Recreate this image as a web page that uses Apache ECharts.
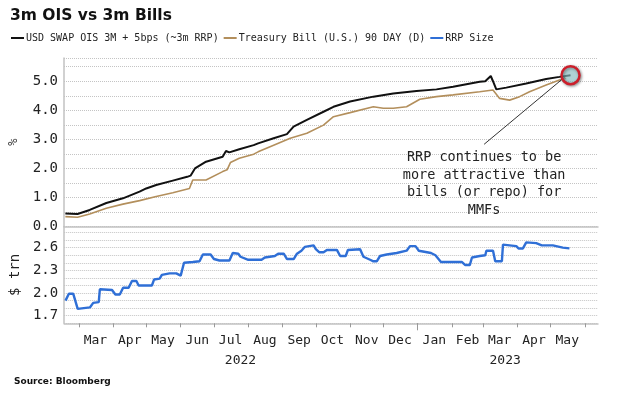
<!DOCTYPE html>
<html><head><meta charset="utf-8">
<script src="https://cdn.jsdelivr.net/npm/echarts@6/dist/echarts.min.js"></script>
<style>html,body{margin:0;padding:0;background:#fff}#c{width:621px;height:393px}</style>
</head><body><div id="c"></div>
<script>
const oisDates = ['2022-02-17','2022-02-28','2022-03-11','2022-03-26','2022-04-10','2022-04-25','2022-05-01','2022-05-10','2022-05-25','2022-06-07','2022-06-10','2022-06-14','2022-06-24','2022-07-09','2022-07-12','2022-07-15','2022-07-24','2022-08-06','2022-08-10','2022-08-24','2022-09-05','2022-09-11','2022-09-23','2022-10-08','2022-10-17','2022-11-01','2022-11-22','2022-12-10','2022-12-31','2023-01-18','2023-02-02','2023-02-26','2023-03-03','2023-03-08','2023-03-10','2023-03-13','2023-03-22','2023-04-09','2023-04-27','2023-05-09','2023-05-19'];
const oisValues = [0.45,0.43,0.57,0.81,0.97,1.20,1.31,1.43,1.58,1.71,1.75,2.00,2.23,2.40,2.60,2.55,2.66,2.80,2.86,3.04,3.18,3.44,3.67,3.95,4.12,4.30,4.47,4.58,4.66,4.72,4.81,4.98,5.00,5.18,5.00,4.72,4.78,4.92,5.08,5.15,5.21];

const billDates = ['2022-02-17','2022-02-28','2022-03-11','2022-03-26','2022-04-10','2022-04-25','2022-05-10','2022-05-25','2022-06-09','2022-06-12','2022-06-24','2022-07-09','2022-07-13','2022-07-16','2022-07-24','2022-08-06','2022-08-10','2022-08-24','2022-09-08','2022-09-23','2022-10-08','2022-10-17','2022-11-01','2022-11-22','2022-12-01','2022-12-10','2022-12-22','2023-01-03','2023-01-18','2023-02-02','2023-02-26','2023-03-10','2023-03-16','2023-03-25','2023-04-03','2023-04-12','2023-04-27','2023-05-09','2023-05-15'];
const billValues = [0.34,0.32,0.43,0.63,0.77,0.89,1.03,1.16,1.31,1.60,1.60,1.89,1.95,2.20,2.35,2.49,2.57,2.80,3.04,3.21,3.49,3.78,3.92,4.12,4.07,4.07,4.12,4.38,4.47,4.53,4.64,4.70,4.41,4.35,4.47,4.64,4.87,5.04,5.10];

const rrpDates = ['2022-02-17','2022-02-20','2022-02-24','2022-02-28','2022-03-11','2022-03-14','2022-03-19','2022-03-20','2022-03-31','2022-04-03','2022-04-07','2022-04-10','2022-04-15','2022-04-18','2022-04-22','2022-04-24','2022-05-06','2022-05-08','2022-05-13','2022-05-15','2022-05-22','2022-05-28','2022-06-01','2022-06-04','2022-06-12','2022-06-18','2022-06-21','2022-06-28','2022-07-01','2022-07-06','2022-07-15','2022-07-18','2022-07-23','2022-07-25','2022-08-01','2022-08-13','2022-08-16','2022-08-25','2022-08-28','2022-09-02','2022-09-05','2022-09-11','2022-09-14','2022-09-18','2022-09-21','2022-09-29','2022-10-01','2022-10-04','2022-10-08','2022-10-11','2022-10-20','2022-10-23','2022-10-28','2022-10-30','2022-11-10','2022-11-13','2022-11-19','2022-11-22','2022-11-25','2022-11-28','2022-12-04','2022-12-13','2022-12-22','2022-12-25','2022-12-30','2023-01-02','2023-01-13','2023-01-17','2023-01-22','2023-02-10','2023-02-13','2023-02-17','2023-02-19','2023-02-26','2023-03-03','2023-03-04','2023-03-10','2023-03-12','2023-03-18','2023-03-19','2023-03-25','2023-03-31','2023-04-02','2023-04-06','2023-04-09','2023-04-18','2023-04-23','2023-05-03','2023-05-06','2023-05-12','2023-05-18'];
const rrpValues = [1.90,1.99,1.99,1.79,1.81,1.87,1.88,2.05,2.04,1.98,1.98,2.07,2.07,2.16,2.16,2.10,2.10,2.18,2.19,2.24,2.26,2.26,2.23,2.40,2.41,2.42,2.51,2.51,2.45,2.43,2.43,2.53,2.52,2.48,2.44,2.44,2.47,2.49,2.52,2.52,2.45,2.45,2.52,2.56,2.61,2.63,2.58,2.54,2.54,2.57,2.57,2.49,2.49,2.57,2.58,2.48,2.44,2.42,2.42,2.49,2.51,2.53,2.56,2.62,2.62,2.56,2.53,2.50,2.41,2.41,2.37,2.37,2.47,2.49,2.50,2.56,2.56,2.42,2.42,2.64,2.63,2.62,2.59,2.59,2.67,2.66,2.63,2.63,2.62,2.60,2.59];

const monthTicks = ['2022-03-01','2022-04-01','2022-05-01','2022-06-01','2022-07-01','2022-08-01','2022-09-01','2022-10-01','2022-11-01','2022-12-01','2023-01-01','2023-02-01','2023-03-01','2023-04-01','2023-05-01','2023-06-01'];
const monthLabelDates = ['2022-03-16','2022-04-16','2022-05-16','2022-06-16','2022-07-16','2022-08-16','2022-09-16','2022-10-16','2022-11-16','2022-12-16','2023-01-16','2023-02-15','2023-03-16','2023-04-16','2023-05-16'];
const monthNames = ['Jan','Feb','Mar','Apr','May','Jun','Jul','Aug','Sep','Oct','Nov','Dec'];
const yearTicks = ['2023-01-01'];
const yearLabelDates = ['2022-07-25','2023-03-21'];
const yearLabels = ['2022','2023'];
const topTickLabels = [0,1,2,3,4,5];
const bottomTickLabels = [1.7,2.0,2.3,2.6];

const X_MIN = '2022-02-15T19:00:00';
const X_MAX = '2023-06-12T19:00:00';
const ts = s => new Date(s.length === 10 ? s + 'T00:00:00' : s).getTime();
const zip = (d, v) => d.map((x, i) => [ts(x), v[i]]);

const mono = 'DejaVu Sans Mono';
const gridLine = {show: true, lineStyle: {type: 'dotted', color: '#c4c4c4', width: 1}};
const axisLineStyle = {show: true, lineStyle: {color: '#c2c2c2', width: 1.5}};
const xMin = ts(X_MIN), xMax = ts(X_MAX);

const chart = echarts.init(document.getElementById('c'), null, {renderer: 'canvas'});
chart.setOption({
  animation: false,
  backgroundColor: '#fff',
  title: [
    {text: '3m OIS vs 3m Bills', left: 10, top: 8, padding: 0, textStyle: {fontFamily: 'DejaVu Sans', fontWeight: 'bold', fontSize: 15.5, color: '#111'}},
    {text: 'Source: Bloomberg', left: 14, top: 377, padding: 0, textStyle: {fontFamily: 'DejaVu Sans', fontWeight: 'bold', fontSize: 9, color: '#111'}}
  ],
  legend: {
    left: 11, top: 33, padding: 0, itemWidth: 13, itemHeight: 2, itemGap: 5, icon: 'rect',
    textStyle: {fontFamily: mono, fontSize: 10, color: '#222', padding: [0, 0, 0, -3]},
    data: ['USD SWAP OIS 3M + 5bps (~3m RRP)', 'Treasury Bill (U.S.) 90 DAY (D)', 'RRP Size']
  },
  grid: [
    {left: 62, right: 23, top: 58, height: 168.5},
    {left: 62, right: 23, top: 226.5, height: 96.8}
  ],
  xAxis: [
    {type: 'value', gridIndex: 0, position: 'bottom', min: xMin, max: xMax, axisLine: axisLineStyle, axisTick: {show: false}, axisLabel: {show: false}, splitLine: {show: false}},
    {type: 'value', gridIndex: 1, position: 'bottom', min: xMin, max: xMax, axisLine: axisLineStyle,
      axisTick: {show: true, length: 4, customValues: monthTicks.map(ts), lineStyle: {color: '#999', width: 1}},
      axisLabel: {show: true, customValues: monthLabelDates.map(ts), margin: 11, fontFamily: mono, fontSize: 13, color: '#222',
        showMinLabel: true, showMaxLabel: true, hideOverlap: false,
        formatter: v => monthNames[new Date(v).getMonth()]},
      splitLine: {show: false}},
    {type: 'value', gridIndex: 1, position: 'bottom', offset: 0, min: xMin, max: xMax, axisLine: {show: false},
      axisTick: {show: true, length: 7, customValues: yearTicks.map(ts), lineStyle: {color: '#999', width: 1}},
      axisLabel: {show: true, customValues: yearLabelDates.map(ts), margin: 31, fontFamily: mono, fontSize: 13, color: '#222',
        showMinLabel: true, showMaxLabel: true,
        formatter: v => { const i = yearLabelDates.map(ts).indexOf(v); return i >= 0 ? yearLabels[i] : ''; }},
      splitLine: {show: false}}
  ],
  yAxis: [
    {type: 'value', gridIndex: 0, min: 0, max: 5.8, interval: 0.5,
      name: '%', nameLocation: 'middle', nameGap: 44, nameRotate: 90, nameTextStyle: {fontFamily: mono, fontSize: 12, color: '#333'},
      axisLine: axisLineStyle, axisTick: {show: false},
      axisLabel: {margin: 6, fontFamily: mono, fontSize: 14, color: '#222',
        formatter: v => topTickLabels.some(t => Math.abs(t - v) < 1e-6) ? v.toFixed(1) : ''},
      splitLine: gridLine},
    {type: 'value', gridIndex: 1, min: 1.6, max: 2.88, interval: 0.1,
      name: '$ trn', nameLocation: 'middle', nameGap: 37, nameRotate: 90, nameTextStyle: {fontFamily: mono, fontSize: 14, color: '#222'},
      axisLine: axisLineStyle, axisTick: {show: false},
      axisLabel: {margin: 6, fontFamily: mono, fontSize: 14, color: '#222',
        formatter: v => bottomTickLabels.some(t => Math.abs(t - v) < 1e-6) ? v.toFixed(1) : ''},
      splitLine: gridLine}
  ],
  series: [
    {name: 'Treasury Bill (U.S.) 90 DAY (D)', type: 'line', xAxisIndex: 0, yAxisIndex: 0, showSymbol: false, symbol: 'none',
      data: zip(billDates, billValues), lineStyle: {color: '#b38f5c', width: 1.6}, itemStyle: {color: '#b38f5c'}},
    {name: 'USD SWAP OIS 3M + 5bps (~3m RRP)', type: 'line', xAxisIndex: 0, yAxisIndex: 0, showSymbol: false, symbol: 'none',
      data: zip(oisDates, oisValues), lineStyle: {color: '#111', width: 2}, itemStyle: {color: '#111'}, z: 3,
      markLine: {silent: true, symbol: ['none', 'none'], label: {show: false}, lineStyle: {color: '#333', width: 1, type: 'solid'},
        data: [[{coord: [ts('2023-03-02'), 2.83]}, {coord: [ts('2023-05-14'), 5.15]}]]},
      markPoint: {silent: true, data: [
        {coord: [ts('2023-05-19'), 5.21], symbol: 'circle', symbolSize: 18,
          itemStyle: {color: 'rgba(160,222,225,0.55)', borderColor: '#cc1f2b', borderWidth: 2.5, shadowBlur: 3, shadowColor: 'rgba(0,0,0,0.45)', shadowOffsetX: 1, shadowOffsetY: 1},
          label: {show: false}},
        {coord: [ts('2023-03-02'), 1.46], symbol: 'circle', symbolSize: 0,
          label: {show: true, position: 'inside', align: 'center', verticalAlign: 'middle', fontFamily: mono, fontSize: 13.5, lineHeight: 17.5, color: '#222',
            formatter: 'RRP continues to be\nmore attractive than\nbills (or repo) for\nMMFs'}}
      ]}},
    {name: 'RRP Size', type: 'line', xAxisIndex: 1, yAxisIndex: 1, showSymbol: false, symbol: 'none',
      data: zip(rrpDates, rrpValues), lineStyle: {color: '#2f6fd6', width: 2.4}, itemStyle: {color: '#2f6fd6'}}
  ]
});
</script></body></html>
